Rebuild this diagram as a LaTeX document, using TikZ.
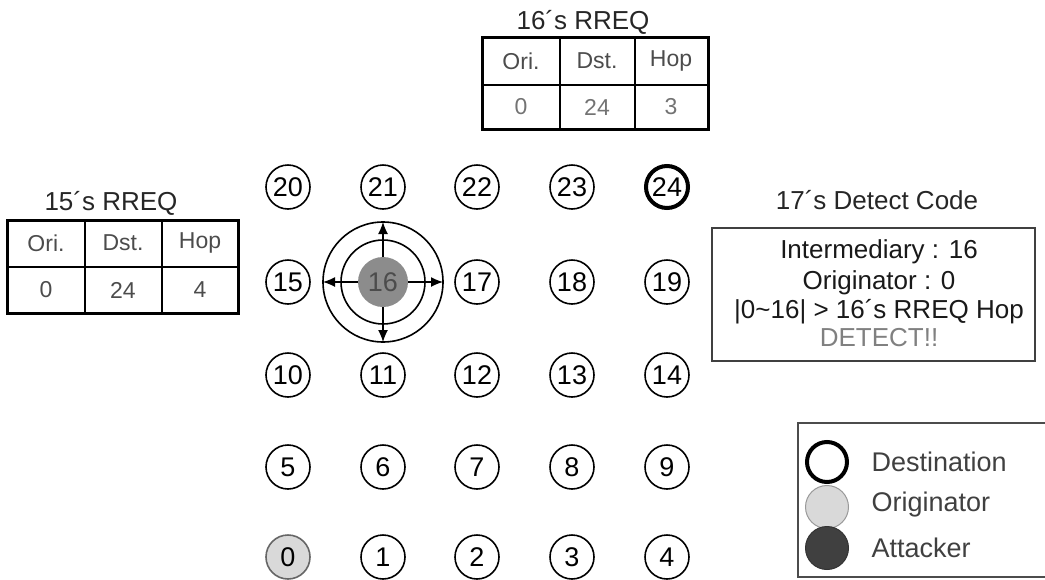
\documentclass[tikz,border=0pt]{standalone}
\usepackage{fontspec}
\setmainfont{Liberation Sans}
\usetikzlibrary{arrows.meta,calc}
\begin{document}
\begin{tikzpicture}[x=1pt,y=-1pt,
  nd/.style={circle,draw,line width=1.6pt,minimum size=44pt,inner sep=0pt,font=\fontsize{27}{27}\selectfont},
  ttl/.style={font=\fontsize{26}{26}\selectfont,text=black!85},
  cell/.style={font=\fontsize{23}{23}\selectfont,text=black!70},
  val/.style={font=\fontsize{23}{23}\selectfont,text=black!55},
  code/.style={font=\fontsize{26}{26}\selectfont,text=black!90},
  leg/.style={font=\fontsize{27}{27}\selectfont,text=black!75,anchor=west},
  outer/.style={line width=3pt},
  inner/.style={line width=1.3pt},
  ring/.style={line width=1.6pt},
  arr/.style={line width=1.3pt,-{Latex[length=12pt,width=10pt]}}]
\useasboundingbox (0,0) rectangle (1045,579);

% grid of nodes
\foreach \n/\x/\y in {1/383/557,2/477/557,3/572/557,4/667/557,
  5/288/467,6/383/467,7/477/467,8/572/467,9/667/467,
  10/288/375,11/383/375,12/477/375,13/572/375,14/667/375,
  15/288/282,17/477/282,18/572/282,19/667/282,
  20/288/187,21/383/187,22/477/187,23/572/187}
  \node[nd] (n\n) at (\x,\y) {\n};
\node[nd,fill=black!15,draw=black!60] (n0) at (288,557) {0};
\node[nd,line width=4pt,minimum size=42pt] (n24) at (667,187) {24};

% attacker 16 with broadcast rings
\node[circle,fill=black!45,minimum size=50pt,inner sep=0pt,text=black!70,
      font=\fontsize{27}{27}\selectfont] (n16) at (383,282) {16};
\draw[ring] (n16) circle[radius=42];
\draw[ring] (n16) circle[radius=60];
\coordinate (rN) at (383,222);
\coordinate (rS) at (383,342);
\coordinate (rW) at (323,282);
\coordinate (rE) at (443,282);
\draw[arr] (n16.north) -- (rN);
\draw[arr] (n16.south) -- (rS);
\draw[arr] (n16.west) -- (rW);
\draw[arr] (n16.east) -- (rE);

% 16's RREQ table
\node[ttl] (t16) at (583,22) {16´s RREQ};
\draw[inner] (560,37) -- (560,129) (635,37) -- (635,129) (482,85) -- (708,85);
\draw[outer] (482,37) rectangle (708,129);
\node[cell] (a1) at (521,61) {Ori.};
\node[cell] (a2) at (597,61) {Dst.};
\node[cell] (a3) at (671,61) {Hop};
\node[val] (a4) at (521,107) {0};
\node[val] (a5) at (597,107) {24};
\node[val] (a6) at (671,107) {3};

% 15's RREQ table
\node[ttl] (t15) at (111,203) {15´s RREQ};
\draw[inner] (85,220) -- (85,313) (162,220) -- (162,313) (7,267) -- (238,267);
\draw[outer] (7,220) rectangle (238,313);
\node[cell] (b1) at (46,243) {Ori.};
\node[cell] (b2) at (123,243) {Dst.};
\node[cell] (b3) at (200,243) {Hop};
\node[cell] (b4) at (46,290) {0};
\node[cell] (b5) at (123,290) {24};
\node[cell] (b6) at (200,290) {4};

% 17's detect code
\node[ttl] (t17) at (877,200) {17´s Detect Code};
\draw[line width=1.2pt,black!75] (712,228) rectangle (1035,361);
\node[code] (c1) at (879,252) {Intermediary : 16};
\node[code] (c2) at (879,283) {Originator : 0};
\node[code] (c3) at (879,312) {|0\textasciitilde16| > 16´s RREQ Hop};
\node[code,text=black!50] (c4) at (879,338) {DETECT!!};

% legend
\draw[line width=1.2pt,black!70] (1060,423) -- (798,423) -- (798,577) -- (1060,577);
\node[circle,draw,line width=4pt,fill=white,minimum size=40pt,inner sep=0pt] (l1) at (827,462) {};
\node[circle,draw=black!40,line width=1pt,fill=black!15,minimum size=43pt,inner sep=0pt] (l2) at (827,507) {};
\node[circle,draw=black!80,line width=1pt,fill=black!75,minimum size=43pt,inner sep=0pt] (l3) at (827,548) {};
\node[leg] (d1) at (868,462) {Destination};
\node[leg] (d2) at (868,505) {Originator};
\node[leg] (d3) at (868,548) {Attacker};
\end{tikzpicture}
\end{document}
